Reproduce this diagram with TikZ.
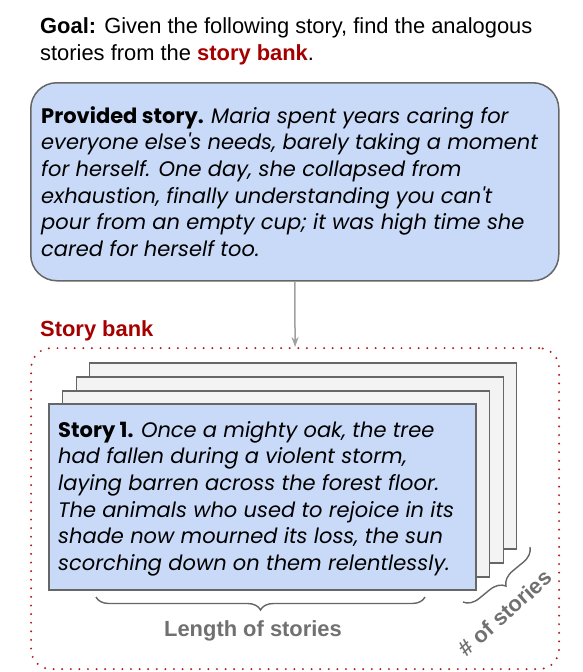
\documentclass[tikz,border=0pt]{standalone}
\usepackage{fontspec}
\setmainfont{Liberation Sans}
\newfontfamily\boxfont{Poppins}
\usetikzlibrary{arrows.meta,decorations.pathreplacing}
\definecolor{boxblue}{HTML}{C9DAF8}
\definecolor{pagegray}{HTML}{F3F3F3}
\definecolor{edgegray}{HTML}{666666}
\definecolor{bankred}{HTML}{A50000}
\definecolor{dotred}{HTML}{B71C1C}
\definecolor{labelgray}{HTML}{707070}
\definecolor{arrowgray}{HTML}{A0A0A0}
\tikzset{
  goaltext/.style={anchor=base west, inner sep=0, font=\fontsize{21.9}{27}\selectfont},
  storytext/.style={anchor=north west, inner sep=0, align=left, font=\boxfont\fontsize{21}{26.7}\selectfont},
  provbox/.style={draw=edgegray, line width=1.5pt, fill=boxblue, rounded corners=26pt, anchor=north west, inner sep=0},
  pagebox/.style={draw=edgegray, line width=1.5pt, fill=pagegray, anchor=north west, inner sep=0, minimum width=427pt, minimum height=186pt},
  frontbox/.style={pagebox, fill=boxblue},
  bankbox/.style={draw=dotred, line width=2.2pt, line cap=round, dash pattern=on 0pt off 8.6pt, rounded corners=20pt, anchor=north west, inner sep=0},
  bracestyle/.style={draw=edgegray, line width=1.4pt, decorate, decoration={brace, amplitude=13pt, mirror}},
  graylabel/.style={text=labelgray, font=\fontsize{21.9}{26}\selectfont\bfseries, inner sep=0},
  arrowline/.style={draw=arrowgray, line width=1.5pt, -{Stealth[length=10pt,width=7pt]}}
}
\begin{document}
\begin{tikzpicture}[x=1pt,y=-1pt]
\useasboundingbox (0,0) rectangle (583,672);
% goal
\node[goaltext] (goal1) at (40,33) {\textbf{Goal:} Given the following story, find the analogous};
\node[goaltext] (goal2) at (40,60) {stories from the \textcolor{bankred}{\textbf{story bank}}.};
% provided story box
\node[provbox, minimum width=528pt, minimum height=198pt] (prov) at (30,82) {};
\node[storytext] (provtext) at (41,106) {\textbf{Provided story.} \textit{Maria spent years caring for}\\
\textit{everyone else's needs, barely taking a moment}\\
\textit{for herself. One day, she collapsed from}\\
\textit{exhaustion, finally understanding you can't}\\
\textit{pour from an empty cup; it was high time she}\\
\textit{cared for herself too.}};
% story bank
\node[anchor=base west, inner sep=0, text=bankred, font=\fontsize{21.9}{26}\selectfont\bfseries] (banklabel) at (40,336) {Story bank};
\node[bankbox, minimum width=528pt, minimum height=321pt] (bank) at (30,347) {};
\draw[arrowline] (prov.south) -- (bank.north);
% pages
\node[pagebox] (p4) at (88.5,362) {};
\node[pagebox] (p3) at (75.5,376) {};
\node[pagebox] (p2) at (61.5,390) {};
\node[frontbox] (p1) at (48,403) {};
\node[storytext] (s1text) at (58,421) {\textbf{Story 1.} \textit{Once a mighty oak, the tree}\\
\textit{had fallen during a violent storm,}\\
\textit{laying barren across the forest floor.}\\
\textit{The animals who used to rejoice in its}\\
\textit{shade now mourned its loss, the sun}\\
\textit{scorching down on them relentlessly.}};
% braces
\coordinate (bl) at (96,597);
\coordinate (br) at (425,597);
\draw[bracestyle] (bl) -- (br);
\node[graylabel, anchor=base] (lenlabel) at (253,636) {Length of stories};
\coordinate (dl) at (463,602);
\coordinate (dr) at (530,547);
\draw[bracestyle, decoration={brace, amplitude=15pt, mirror}] (dl) -- (dr);
\node[graylabel, rotate=42] (numlabel) at (505,613) {\# of stories};
\end{tikzpicture}
\end{document}
